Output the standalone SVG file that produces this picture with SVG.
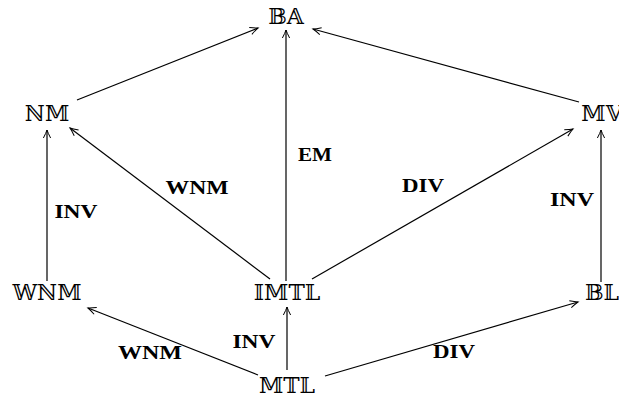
<svg xmlns="http://www.w3.org/2000/svg" width="619" height="403" viewBox="0 0 619 403">
<defs>
<marker id="ah" markerWidth="12" markerHeight="10" refX="0" refY="0" viewBox="-10 -5 12 10" orient="auto" markerUnits="userSpaceOnUse">
<path d="M-8,-3.6 Q-3,-1 0,0 Q-3,1 -8,3.6" fill="none" stroke="#000" stroke-width="1"/>
</marker>
</defs>
<style>
.n{font-family:"DejaVu Serif","DejaVu Sans",serif;font-size:22px;text-anchor:middle;fill:#000}
.l{font-family:"Liberation Serif",serif;font-weight:bold;font-size:19px;text-anchor:middle;fill:#000}
.e{stroke:#000;stroke-width:1.2;fill:none;marker-end:url(#ah)}
</style>
<g id="connectors">
<line class="e" x1="77" y1="100" x2="258" y2="28"/>
<line class="e" x1="579" y1="102" x2="313" y2="29"/>
<line class="e" x1="286" y1="281" x2="286" y2="30"/>
<line class="e" x1="270" y1="279" x2="70" y2="128"/>
<line class="e" x1="312" y1="279" x2="573" y2="129"/>
<line class="e" x1="47" y1="281" x2="47" y2="130"/>
<line class="e" x1="601" y1="282" x2="601" y2="130"/>
<line class="e" x1="258" y1="375" x2="88" y2="308"/>
<line class="e" x1="287" y1="370" x2="287" y2="307"/>
<line class="e" x1="325" y1="376" x2="578" y2="302"/>
</g>
<g id="labels">
<text class="l" x="315" y="161" textLength="34" lengthAdjust="spacingAndGlyphs">EM</text>
<text class="l" x="76" y="218" textLength="43" lengthAdjust="spacingAndGlyphs">INV</text>
<text class="l" x="197" y="194" textLength="63" lengthAdjust="spacingAndGlyphs">WNM</text>
<text class="l" x="423" y="192" textLength="42" lengthAdjust="spacingAndGlyphs">DIV</text>
<text class="l" x="572" y="206" textLength="44" lengthAdjust="spacingAndGlyphs">INV</text>
<text class="l" x="150" y="359" textLength="64" lengthAdjust="spacingAndGlyphs">WNM</text>
<text class="l" x="254" y="348" textLength="43" lengthAdjust="spacingAndGlyphs">INV</text>
<text class="l" x="454" y="358" textLength="42" lengthAdjust="spacingAndGlyphs">DIV</text>
</g>
<g id="BA"><text class="n" x="286" y="24">𝔹𝔸</text></g>
<g id="NM"><text class="n" x="47" y="121">ℕ𝕄</text></g>
<g id="MV"><text class="n" x="602" y="121">𝕄𝕍</text></g>
<g id="WNM"><text class="n" x="47" y="300">𝕎ℕ𝕄</text></g>
<g id="IMTL"><text class="n" x="287" y="300">𝕀𝕄𝕋𝕃</text></g>
<g id="BL"><text class="n" x="602" y="300">𝔹𝕃</text></g>
<g id="MTL"><text class="n" x="287" y="393">𝕄𝕋𝕃</text></g>
</svg>
